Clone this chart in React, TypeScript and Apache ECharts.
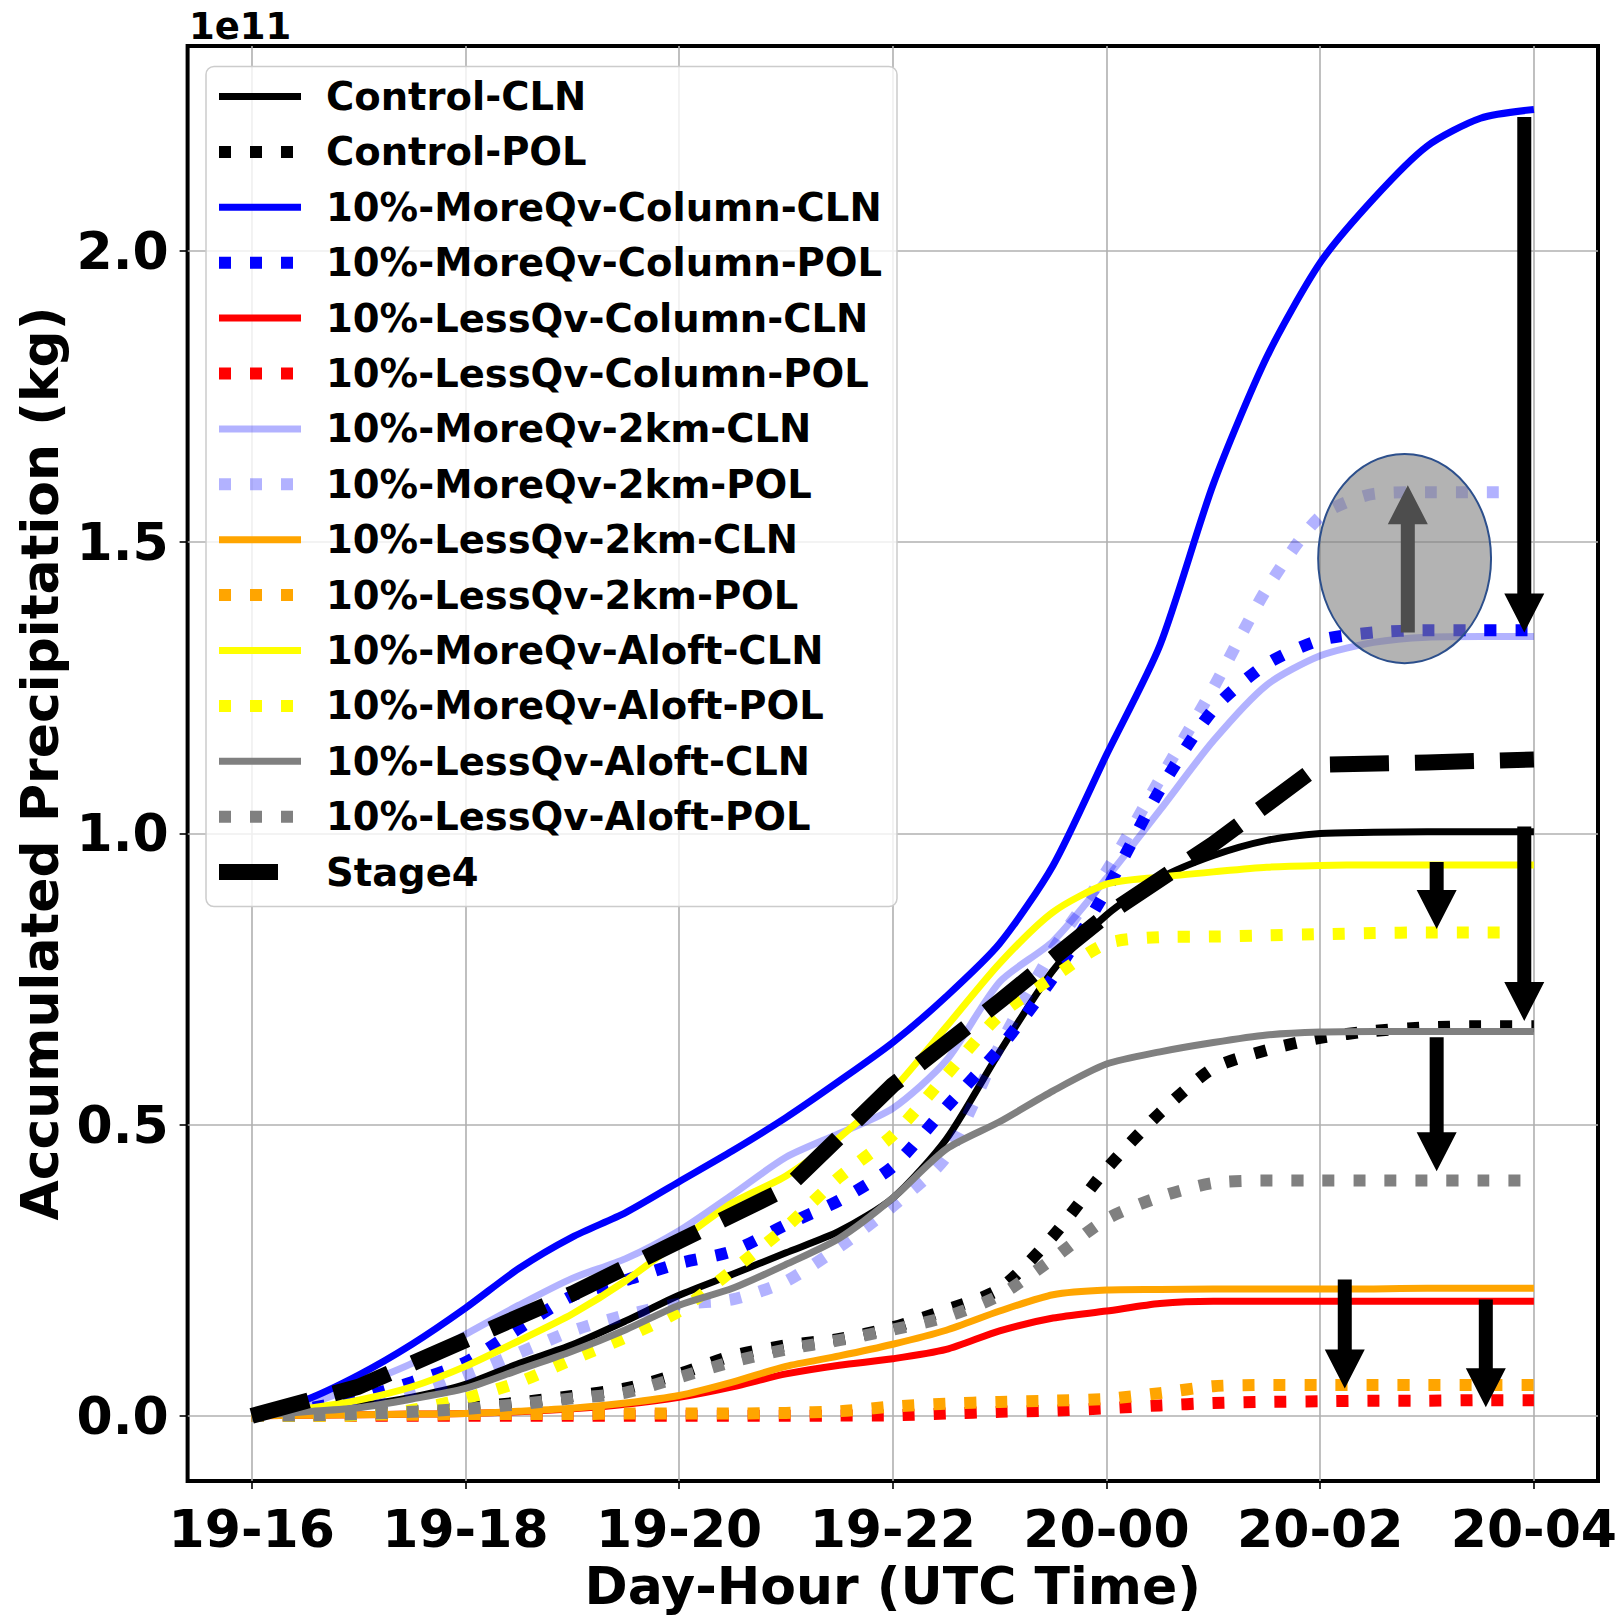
import React, { useEffect, useRef } from 'react';
import * as echarts from 'echarts';

// ---- data (values in units of 1e11 kg) ----
const hours = [16, 16.5, 17, 17.5, 18, 18.5, 19, 19.5, 20, 20.5, 21, 21.5, 22, 22.5, 23, 23.5, 24, 24.5, 25, 25.5, 26, 26.5, 27, 27.5, 28];
const stage4Hours = [16, 17, 18, 19, 20, 21, 22, 23, 24, 25, 26, 27, 28];
const xTicks = [16, 18, 20, 22, 24, 26, 28];
const yTicks = [0, 0.5, 1.0, 1.5, 2.0];

const controlCLN = [0, 0.007, 0.017, 0.032, 0.054, 0.09, 0.122, 0.163, 0.207, 0.243, 0.28, 0.317, 0.374, 0.475, 0.625, 0.765, 0.86, 0.923, 0.962, 0.988, 1.0, 1.002, 1.003, 1.003, 1.003];
const controlPOL = [0, 0.001, 0.003, 0.008, 0.014, 0.023, 0.034, 0.047, 0.072, 0.103, 0.121, 0.132, 0.152, 0.182, 0.218, 0.309, 0.424, 0.52, 0.597, 0.628, 0.649, 0.661, 0.667, 0.669, 0.669];
const moreColCLN = [0, 0.027, 0.07, 0.123, 0.185, 0.253, 0.307, 0.349, 0.402, 0.455, 0.512, 0.575, 0.641, 0.72, 0.811, 0.945, 1.135, 1.323, 1.6, 1.818, 1.98, 2.09, 2.18, 2.228, 2.243];
const moreColPOL = [0, 0.012, 0.03, 0.058, 0.092, 0.15, 0.206, 0.233, 0.262, 0.283, 0.328, 0.37, 0.428, 0.53, 0.631, 0.753, 0.903, 1.075, 1.213, 1.291, 1.332, 1.345, 1.349, 1.349, 1.349];
const lessColCLN = [0, 0.001, 0.002, 0.003, 0.004, 0.007, 0.012, 0.02, 0.032, 0.05, 0.072, 0.087, 0.098, 0.114, 0.146, 0.168, 0.18, 0.193, 0.197, 0.197, 0.197, 0.197, 0.197, 0.197, 0.197];
const lessColPOL = [0, 0, 0, 0, 0, 0, 0, 0, 0, 0, 0, 0.0005, 0.001, 0.004, 0.007, 0.009, 0.013, 0.018, 0.022, 0.024, 0.025, 0.026, 0.026, 0.027, 0.027];
const more2kmCLN = [0, 0.018, 0.052, 0.09, 0.14, 0.19, 0.236, 0.27, 0.318, 0.38, 0.444, 0.485, 0.528, 0.61, 0.745, 0.815, 0.923, 1.04, 1.159, 1.255, 1.305, 1.328, 1.337, 1.338, 1.338];
const more2kmPOL = [0, 0.004, 0.012, 0.035, 0.07, 0.108, 0.146, 0.173, 0.192, 0.2, 0.231, 0.29, 0.36, 0.445, 0.635, 0.8, 0.935, 1.093, 1.25, 1.42, 1.544, 1.583, 1.586, 1.586, 1.586];
const less2kmCLN = [0, 0.001, 0.002, 0.003, 0.004, 0.008, 0.013, 0.022, 0.035, 0.058, 0.085, 0.103, 0.123, 0.147, 0.18, 0.208, 0.216, 0.217, 0.218, 0.218, 0.218, 0.218, 0.219, 0.219, 0.219];
const less2kmPOL = [0, 0.001, 0.002, 0.002, 0.003, 0.003, 0.003, 0.004, 0.004, 0.004, 0.005, 0.008, 0.016, 0.021, 0.024, 0.026, 0.029, 0.039, 0.051, 0.053, 0.053, 0.053, 0.053, 0.053, 0.053];
const moreAloftCLN = [0, 0.012, 0.027, 0.05, 0.085, 0.129, 0.175, 0.232, 0.3, 0.366, 0.412, 0.478, 0.56, 0.668, 0.777, 0.865, 0.913, 0.925, 0.934, 0.942, 0.945, 0.946, 0.946, 0.946, 0.946];
const moreAloftPOL = [0, 0, 0.001, 0.01, 0.03, 0.058, 0.097, 0.135, 0.18, 0.25, 0.324, 0.41, 0.482, 0.585, 0.688, 0.753, 0.811, 0.822, 0.823, 0.825, 0.827, 0.829, 0.83, 0.83, 0.83];
const lessAloftCLN = [0, 0.007, 0.014, 0.029, 0.047, 0.079, 0.111, 0.148, 0.19, 0.219, 0.26, 0.305, 0.374, 0.458, 0.505, 0.558, 0.604, 0.625, 0.641, 0.654, 0.659, 0.66, 0.66, 0.66, 0.66];
const lessAloftPOL = [0, 0.001, 0.003, 0.007, 0.012, 0.02, 0.03, 0.04, 0.066, 0.093, 0.114, 0.13, 0.148, 0.17, 0.207, 0.27, 0.338, 0.376, 0.4, 0.404, 0.404, 0.404, 0.404, 0.404, 0.404];
const stage4 = [0, 0.05, 0.13, 0.21, 0.3, 0.39, 0.568, 0.712, 0.86, 0.982, 1.118, 1.122, 1.127];

// annotation arrows (data units): x, from-value, to-value
const arrowX = [27.91, 27.91, 27.09, 27.09, 26.23, 27.55, 26.82];
const arrowFrom = [2.23, 1.012, 0.951, 0.65, 0.234, 0.2, 1.345];
const arrowTo = [1.345, 0.678, 0.836, 0.42, 0.047, 0.015, 1.598];
const arrowColor = ['#000000', '#000000', '#000000', '#000000', '#000000', '#000000', '#4d4d4d'];
// highlighted ellipse (data units): center x, center y, radius x, radius y
const ellipseSpec = [26.79, 1.472, 0.809, 0.1796];

const FONT = 'DejaVu Sans';

type Kind = 'solid' | 'dot' | 'dash';
const styleFor = (kind: Kind) =>
  kind === 'solid'
    ? { width: 7, type: 'solid' as any }
    : kind === 'dot'
    ? { width: 12, type: [12, 19] as any }
    : { width: 16, type: [59, 26] as any };

export default function App() {
  const ref = useRef<HTMLDivElement>(null);
  useEffect(() => {
    const el = ref.current!;
    const chart = echarts.init(el, null, { renderer: 'svg' });
    const lightBlue = 'rgba(0,0,255,0.3)';
    const defs: { name: string; x: number[]; y: number[]; color: string; kind: Kind }[] = [
      { name: 'Control-CLN', x: hours, y: controlCLN, color: '#000000', kind: 'solid' },
      { name: 'Control-POL', x: hours, y: controlPOL, color: '#000000', kind: 'dot' },
      { name: '10%-MoreQv-Column-CLN', x: hours, y: moreColCLN, color: '#0000ff', kind: 'solid' },
      { name: '10%-MoreQv-Column-POL', x: hours, y: moreColPOL, color: '#0000ff', kind: 'dot' },
      { name: '10%-LessQv-Column-CLN', x: hours, y: lessColCLN, color: '#ff0000', kind: 'solid' },
      { name: '10%-LessQv-Column-POL', x: hours, y: lessColPOL, color: '#ff0000', kind: 'dot' },
      { name: '10%-MoreQv-2km-CLN', x: hours, y: more2kmCLN, color: lightBlue, kind: 'solid' },
      { name: '10%-MoreQv-2km-POL', x: hours, y: more2kmPOL, color: lightBlue, kind: 'dot' },
      { name: '10%-LessQv-2km-CLN', x: hours, y: less2kmCLN, color: '#ffa500', kind: 'solid' },
      { name: '10%-LessQv-2km-POL', x: hours, y: less2kmPOL, color: '#ffa500', kind: 'dot' },
      { name: '10%-MoreQv-Aloft-CLN', x: hours, y: moreAloftCLN, color: '#ffff00', kind: 'solid' },
      { name: '10%-MoreQv-Aloft-POL', x: hours, y: moreAloftPOL, color: '#ffff00', kind: 'dot' },
      { name: '10%-LessQv-Aloft-CLN', x: hours, y: lessAloftCLN, color: '#808080', kind: 'solid' },
      { name: '10%-LessQv-Aloft-POL', x: hours, y: lessAloftPOL, color: '#808080', kind: 'dot' },
      { name: 'Stage4', x: stage4Hours, y: stage4, color: '#000000', kind: 'dash' },
    ];

    const series = defs.map((d) => ({
      name: d.name,
      type: 'line',
      data: d.x.map((h, i) => [h, d.y[i]]),
      showSymbol: false,
      symbol: 'none',
      smooth: d.kind === 'dash' ? false : 0.25,
      lineStyle: { color: d.color, ...styleFor(d.kind), cap: 'butt', join: 'round' },
      itemStyle: { color: d.color },
      emphasis: { disabled: true },
      silent: true,
      z: 2,
    }));

    const fmtX = (v: number) => {
      const day = 19 + Math.floor(v / 24);
      const hh = v % 24;
      return `${day}-${String(hh).padStart(2, '0')}`;
    };
    const labelStyle = { fontFamily: FONT, fontWeight: 'bold' as any, fontSize: 52, color: '#000' };

    chart.setOption({
      animation: false,
      backgroundColor: '#ffffff',
      grid: { left: 187.6, right: 25, top: 46, bottom: 126, show: true, borderColor: '#000', borderWidth: 4, backgroundColor: 'transparent' },
      xAxis: {
        type: 'value',
        min: 15.4,
        max: 28.6,
        name: 'Day-Hour (UTC Time)',
        nameLocation: 'middle',
        nameGap: 77,
        nameTextStyle: labelStyle,
        axisLine: { show: false, onZero: false },
        axisTick: { show: true, length: 8, lineStyle: { color: '#000', width: 1.6 }, customValues: xTicks },
        axisLabel: { ...labelStyle, customValues: xTicks, margin: 22, formatter: fmtX },
        splitLine: { show: true, lineStyle: { color: '#b0b0b0', width: 1.6 } },
      },
      yAxis: {
        type: 'value',
        min: -0.112,
        max: 2.352,
        name: 'Accumulated Precipitation (kg)',
        nameLocation: 'middle',
        nameGap: 122,
        nameTextStyle: labelStyle,
        axisLine: { show: false, onZero: false },
        axisTick: { show: true, length: 8, lineStyle: { color: '#000', width: 1.6 }, customValues: yTicks },
        axisLabel: { ...labelStyle, customValues: yTicks, margin: 19, formatter: (v: number) => v.toFixed(1) },
        splitLine: { show: true, lineStyle: { color: '#b0b0b0', width: 1.6 } },
      },
      legend: {
        orient: 'vertical',
        left: 206,
        top: 66.5,
        padding: [10, 0, 0, 5],
        itemGap: 15.4,
        itemWidth: 82,
        itemHeight: 20,
        selectedMode: false,
        z: 10,
        textStyle: { fontFamily: FONT, fontWeight: 'bold', fontSize: 38.5, color: '#000', lineHeight: 40, padding: [0, 0, 0, 20] },
        itemStyle: { opacity: 0 },
        data: defs.map((d) => ({
          name: d.name,
          lineStyle: { color: d.color, ...styleFor(d.kind), cap: 'butt' },
          itemStyle: { opacity: 0 },
        })),
      },
      series,
    } as any);

    const toPx = (x: number, y: number) => chart.convertToPixel({ gridIndex: 0 } as any, [x, y]) as number[];
    const graphics: any[] = [];
    graphics.push({
      type: 'rect',
      z: 3,
      silent: true,
      shape: { x: 206, y: 66.5, width: 691, height: 840, r: 8 },
      style: { fill: 'rgba(255,255,255,0.8)', stroke: '#cccccc', lineWidth: 1.5 },
    });
    graphics.push({
      type: 'text',
      z: 3,
      style: { text: '1e11', x: 189, y: 26, font: `bold 37px "${FONT}"`, fill: '#000', align: 'left', verticalAlign: 'middle' },
    });
    const [ecx, ecy] = toPx(ellipseSpec[0], ellipseSpec[1]);
    const [erx] = toPx(ellipseSpec[0] + ellipseSpec[2], ellipseSpec[1]);
    const [, ery] = toPx(ellipseSpec[0], ellipseSpec[1] + ellipseSpec[3]);
    graphics.push({
      type: 'ellipse',
      z: 5,
      silent: true,
      shape: { cx: ecx, cy: ecy, rx: erx - ecx, ry: ecy - ery },
      style: { fill: 'rgba(128,128,128,0.6)', stroke: '#2c4f8c', lineWidth: 2 },
    });
    const SHAFT = 14;
    const HEADW = 40;
    const HEADL = 39;
    arrowX.forEach((ax, i) => {
      const [px, p0] = toPx(ax, arrowFrom[i]);
      const [, p1] = toPx(ax, arrowTo[i]);
      const dir = p1 > p0 ? 1 : -1;
      const hb = p1 - dir * HEADL;
      graphics.push({
        type: 'polygon',
        z: 6 + (i === 6 ? 1 : 0),
        silent: true,
        shape: {
          points: [
            [px - SHAFT / 2, p0],
            [px + SHAFT / 2, p0],
            [px + SHAFT / 2, hb],
            [px + HEADW / 2, hb],
            [px, p1],
            [px - HEADW / 2, hb],
            [px - SHAFT / 2, hb],
          ],
        },
        style: { fill: arrowColor[i] },
      });
    });
    chart.setOption({ graphic: graphics } as any);

    return () => chart.dispose();
  }, []);
  return <div ref={ref} style={{ position: 'fixed', left: 0, top: 0, width: 1623, height: 1617 }} />;
}
